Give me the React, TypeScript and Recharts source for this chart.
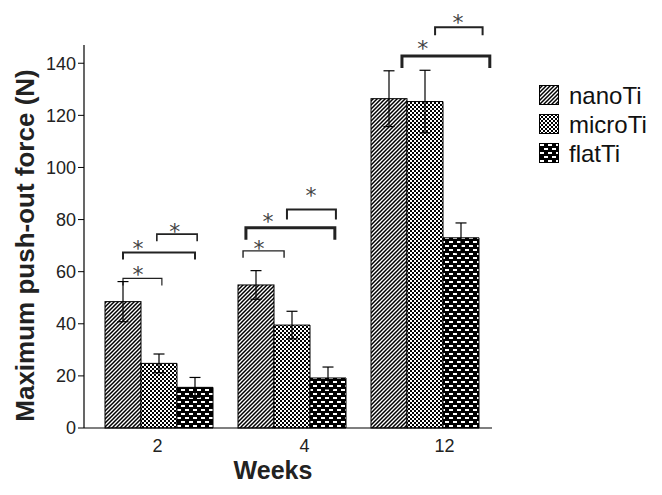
import React from 'react';
import { BarChart, Bar, XAxis, YAxis, ErrorBar } from 'recharts';

// ---------- data ----------
const weeks = ['2', '4', '12'];
const nanoTi = [48.5, 54.9, 126.4];
const nanoTiErr = [7.7, 5.5, 10.7];
const microTi = [24.8, 39.5, 125.3];
const microTiErr = [3.6, 5.3, 12.0];
const flatTi = [15.6, 19.2, 73.0];
const flatTiErr = [3.8, 4.2, 5.7];
const yTicks = [0, 20, 40, 60, 80, 100, 120, 140];
const seriesNames = ['nanoTi', 'microTi', 'flatTi'];

// significance brackets (start/end in bar units within a week group, height in N)
const bracketWeek = ['2', '2', '2', '4', '4', '4', '12', '12'];
const bracketStart = [0.5, 0.5, 1.44, 0.14, 0.22, 1.36, 0.86, 1.78];
const bracketEnd = [1.58, 2.5, 2.56, 1.28, 2.69, 2.72, 3.3, 3.1];
const bracketValue = [57.4, 67.4, 74.4, 68, 76.9, 83.9, 142.8, 153.8];
const starPos = [0.92, 0.92, 1.94, 0.58, 0.83, 2.03, 1.44, 2.42];
const starValue = [61, 71, 77.5, 71, 81, 91, 147.7, 157.7];

// styles
const bracketStroke = [1.2, 2, 1.6, 1.4, 3, 2, 3, 2];
const bracketDrop = [7, 7, 7, 7, 12, 10, 12, 8];
const tickShift = [-1, 13, 20];

const data = weeks.map((w, i) => ({
  week: w,
  nanoTi: nanoTi[i],
  nanoTiErr: nanoTiErr[i],
  microTi: microTi[i],
  microTiErr: microTiErr[i],
  flatTi: flatTi[i],
  flatTiErr: flatTiErr[i],
}));

const fills = ['url(#pNano)', 'url(#pMicro)', 'url(#pFlat)'];
const FONT = 'Liberation Sans, Arial, Helvetica, sans-serif';

const NanoShape = (props: any) => {
  const { x, y, width, height, payload } = props;
  const base = y + height;
  const k = height / payload.nanoTi;
  const py = (v: number) => base - v * k;
  const px = (u: number) => x + u * width;
  const items: any[] = [];
  bracketWeek.forEach((w, i) => {
    if (w !== payload.week) return;
    const x1 = px(bracketStart[i]);
    const x2 = px(bracketEnd[i]);
    const yy = py(bracketValue[i]);
    const d = bracketDrop[i];
    items.push(
      <path
        key={'b' + i}
        d={`M${x1},${yy + d} L${x1},${yy} L${x2},${yy} L${x2},${yy + d}`}
        fill="none"
        stroke="#222"
        strokeWidth={bracketStroke[i]}
      />
    );
    items.push(
      <text
        key={'s' + i}
        x={px(starPos[i])}
        y={py(starValue[i])}
        textAnchor="middle"
        dominantBaseline="central"
        fontFamily="DejaVu Sans"
        fontSize={22}
        fill="#444"
        dy={5}
      >
        *
      </text>
    );
  });
  return (
    <g>
      <rect x={x} y={y} width={width} height={height} fill={fills[0]} stroke="#000" strokeWidth={1} />
      {items}
    </g>
  );
};

const WeekTick = (props: any) => {
  const { x, y, payload, index } = props;
  return (
    <text
      x={x + (tickShift[index] || 0)}
      y={y}
      dy={14}
      textAnchor="middle"
      fontSize={18}
      fill="#222"
      fontFamily={FONT}
    >
      {payload.value}
    </text>
  );
};

export default function App() {
  return (
    <div style={{ position: 'absolute', left: 0, top: 0, width: 662, height: 495, background: '#fff' }}>
      <BarChart
        width={662}
        height={495}
        data={data}
        margin={{ top: 45, right: 170, left: 0, bottom: 0 }}
        barGap={0}
        barSize={36}
      >
        <defs>
          <pattern id="pNano" patternUnits="userSpaceOnUse" width={4} height={4}>
            <rect width={4} height={4} fill="#fff" />
            <path d="M-1,1 l2,-2 M0,4 l4,-4 M3,5 l2,-2" stroke="#000" strokeWidth={1.5} />
          </pattern>
          <pattern id="pMicro" patternUnits="userSpaceOnUse" width={4} height={4}>
            <rect width={4} height={4} fill="#fff" />
            <rect x={0} y={0} width={2} height={2} fill="#000" />
            <rect x={2} y={2} width={2} height={2} fill="#000" />
          </pattern>
          <pattern id="pFlat" patternUnits="userSpaceOnUse" width={8} height={8}>
            <rect width={8} height={8} fill="#000" />
            <rect x={1} y={1} width={4} height={2} fill="#fff" />
            <rect x={5} y={5} width={4} height={2} fill="#fff" />
            <rect x={-3} y={5} width={4} height={2} fill="#fff" />
          </pattern>
        </defs>
        <XAxis
          dataKey="week"
          height={67}
          padding={{ left: 8, right: 1 }}
          tickLine={false}
          axisLine={{ stroke: '#000', strokeWidth: 1.2 }}
          tick={<WeekTick />}
          tickMargin={4}
          label={{
            content: (p: any) => {
              const vb = p.viewBox || {};
              return (
                <text
                  x={vb.x + vb.width / 2 - 15}
                  y={vb.y + 51}
                  textAnchor="middle"
                  fontSize={25}
                  fontWeight="bold"
                  fontFamily={FONT}
                  fill="#222"
                >
                  Weeks
                </text>
              );
            },
          }}
        />
        <YAxis
          width={84}
          domain={[0, 147]}
          ticks={yTicks}
          interval={0}
          tickSize={6}
          tickLine={{ stroke: '#000' }}
          axisLine={{ stroke: '#000', strokeWidth: 1.2 }}
          tick={{ fontSize: 18, fill: '#222', fontFamily: FONT }}
          label={{
            content: (p: any) => {
              const vb = p.viewBox || {};
              const cx = vb.x + 25;
              const cy = vb.y + vb.height / 2 + 9;
              return (
                <text
                  x={cx}
                  y={cy}
                  transform={`rotate(-90 ${cx} ${cy})`}
                  textAnchor="middle"
                  dominantBaseline="central"
                  fontSize={26}
                  fontWeight="bold"
                  fontFamily={FONT}
                  fill="#222"
                >
                  Maximum push-out force (N)
                </text>
              );
            },
          }}
        />
        <Bar dataKey="nanoTi" shape={NanoShape} isAnimationActive={false}>
          <ErrorBar dataKey="nanoTiErr" width={5.5} stroke="#000" strokeWidth={1.2} />
        </Bar>
        <Bar dataKey="microTi" fill={fills[1]} stroke="#000" strokeWidth={1} isAnimationActive={false}>
          <ErrorBar dataKey="microTiErr" width={5.5} stroke="#000" strokeWidth={1.2} />
        </Bar>
        <Bar dataKey="flatTi" fill={fills[2]} stroke="#000" strokeWidth={1} isAnimationActive={false}>
          <ErrorBar dataKey="flatTiErr" width={5.5} stroke="#000" strokeWidth={1.2} />
        </Bar>
      </BarChart>
      <div style={{ position: 'absolute', left: 539, top: 81, fontFamily: FONT }}>
        {seriesNames.map((n, i) => (
          <div key={n} style={{ display: 'flex', alignItems: 'center', height: 29 }}>
            <svg width={21} height={21} style={{ marginRight: 9 }}>
              <rect x={0.5} y={0.5} width={19} height={19} fill={fills[i]} stroke="#000" strokeWidth={1} />
            </svg>
            <span style={{ fontSize: 24, color: '#111', lineHeight: '29px' }}>{n}</span>
          </div>
        ))}
      </div>
    </div>
  );
}
